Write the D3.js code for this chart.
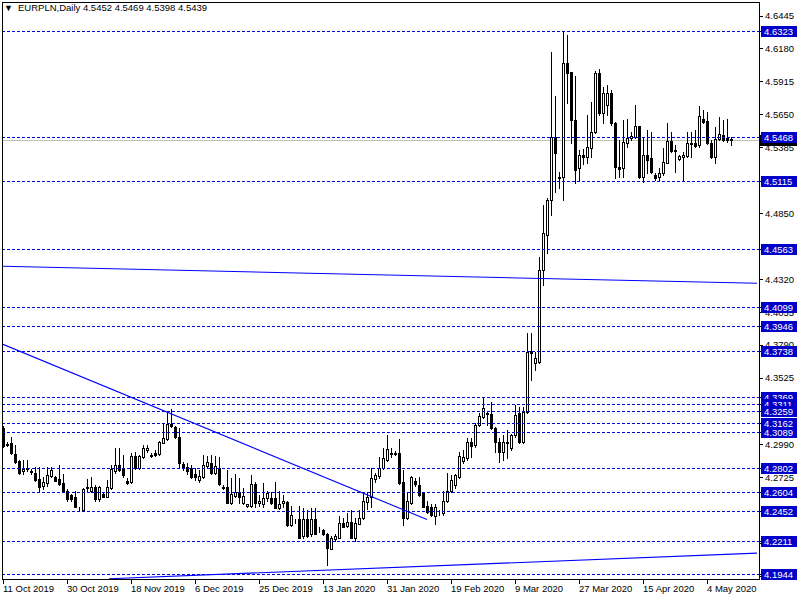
<!DOCTYPE html>
<html><head><meta charset="utf-8">
<script src="https://cdn.jsdelivr.net/npm/d3@7"></script>
<style>body{margin:0;background:#fff;}svg{display:block;}text{font-family:"Liberation Sans",Arial,sans-serif;}</style>
</head><body><svg id="c" width="800" height="600"></svg>
<script>
// EURPLN daily candles, bar index 0 = 11 Oct 2019
const opens=[4.3117,4.2990,4.2996,4.2908,4.2851,4.2771,4.2795,4.2771,4.2762,4.2706,4.2650,4.2674,4.2730,4.2722,4.2706,4.2674,4.2617,4.2577,4.2561,4.2472,4.2456,4.2634,4.2617,4.2642,4.2545,4.2585,4.2561,4.2634,4.2771,4.2819,4.2795,4.2690,4.2682,4.2892,4.2795,4.2884,4.2940,4.2900,4.2916,4.2908,4.2996,4.3036,4.3157,4.3125,4.3052,4.2827,4.2803,4.2795,4.2754,4.2698,4.2722,4.2815,4.2835,4.2758,4.2795,4.2642,4.2642,4.2520,4.2569,4.2601,4.2520,4.2492,4.2496,4.2666,4.2520,4.2512,4.2553,4.2553,4.2553,4.2472,4.2520,4.2528,4.2335,4.2375,4.2391,4.2254,4.2391,4.2270,4.2391,4.2302,4.2302,4.2270,4.2149,4.2230,4.2238,4.2359,4.2327,4.2367,4.2238,4.2351,4.2399,4.2528,4.2561,4.2706,4.2730,4.2795,4.2859,4.2916,4.2916,4.2916,4.2682,4.2399,4.2520,4.2690,4.2658,4.2593,4.2496,4.2480,4.2415,4.2440,4.2432,4.2536,4.2617,4.2658,4.2722,4.2851,4.2875,4.3004,4.2980,4.3141,4.3206,4.3238,4.3230,4.3117,4.3004,4.2924,4.3004,4.2956,4.3061,4.3238,4.3004,4.3246,4.3738,4.3642,4.3650,4.4392,4.4675,4.4957,4.5465,4.5143,4.5143,4.6063,4.5990,4.5603,4.5215,4.5320,4.5304,4.5377,4.5506,4.5982,4.5659,4.5724,4.5820,4.5578,4.5223,4.5215,4.5417,4.5457,4.5465,4.5554,4.5143,4.5320,4.5296,4.5159,4.5143,4.5175,4.5256,4.5433,4.5361,4.5288,4.5304,4.5312,4.5409,4.5417,4.5401,4.5611,4.5595,4.5417,4.5304,4.5449,4.5482,4.5457,4.5452];
const highs=[4.3140,4.3004,4.3052,4.2980,4.2859,4.2859,4.2859,4.2787,4.2803,4.2803,4.2722,4.2803,4.2803,4.2730,4.2819,4.2754,4.2626,4.2585,4.2617,4.2480,4.2634,4.2706,4.2722,4.2658,4.2650,4.2593,4.2698,4.2819,4.2956,4.2956,4.2900,4.2714,4.2916,4.2924,4.2900,4.2980,4.2980,4.2916,4.2940,4.3012,4.3157,4.3238,4.3270,4.3133,4.3117,4.2843,4.2835,4.2819,4.2795,4.2779,4.2900,4.2892,4.2900,4.2892,4.2884,4.2658,4.2779,4.2714,4.2754,4.2714,4.2634,4.2512,4.2738,4.2682,4.2577,4.2674,4.2617,4.2601,4.2682,4.2617,4.2577,4.2536,4.2496,4.2391,4.2496,4.2472,4.2456,4.2472,4.2472,4.2319,4.2310,4.2278,4.2254,4.2270,4.2415,4.2399,4.2432,4.2456,4.2399,4.2456,4.2593,4.2593,4.2795,4.2762,4.2884,4.2956,4.3061,4.2956,4.2932,4.3036,4.2779,4.2593,4.2730,4.2714,4.2722,4.2601,4.2536,4.2512,4.2512,4.2456,4.2617,4.2762,4.2738,4.2746,4.2924,4.2940,4.3044,4.3044,4.3165,4.3238,4.3369,4.3246,4.3327,4.3125,4.3044,4.3061,4.3101,4.3069,4.3303,4.3287,4.3287,4.3884,4.3884,4.3730,4.4497,4.4917,4.4973,4.6151,4.5796,4.5183,4.6323,4.6289,4.5990,4.5958,4.5361,4.5369,4.5643,4.5748,4.5998,4.6014,4.5869,4.5885,4.5845,4.5587,4.5441,4.5603,4.5611,4.5506,4.5724,4.5554,4.5465,4.5522,4.5506,4.5175,4.5215,4.5377,4.5578,4.5506,4.5401,4.5320,4.5344,4.5506,4.5506,4.5522,4.5716,4.5683,4.5667,4.5441,4.5546,4.5627,4.5603,4.5611,4.5469];
const lows=[4.2964,4.2972,4.2908,4.2835,4.2754,4.2754,4.2771,4.2754,4.2690,4.2617,4.2626,4.2650,4.2722,4.2690,4.2658,4.2601,4.2536,4.2536,4.2480,4.2456,4.2448,4.2609,4.2601,4.2536,4.2536,4.2561,4.2561,4.2626,4.2762,4.2771,4.2722,4.2666,4.2674,4.2787,4.2787,4.2875,4.2924,4.2884,4.2892,4.2900,4.2996,4.3028,4.3125,4.3044,4.2795,4.2779,4.2754,4.2714,4.2698,4.2682,4.2714,4.2803,4.2754,4.2754,4.2658,4.2626,4.2520,4.2512,4.2561,4.2520,4.2512,4.2488,4.2488,4.2488,4.2496,4.2480,4.2536,4.2512,4.2472,4.2464,4.2480,4.2327,4.2327,4.2359,4.2238,4.2238,4.2246,4.2254,4.2270,4.2286,4.2262,4.2020,4.2149,4.2214,4.2238,4.2319,4.2319,4.2238,4.2214,4.2343,4.2391,4.2464,4.2480,4.2682,4.2714,4.2787,4.2851,4.2884,4.2900,4.2666,4.2335,4.2391,4.2512,4.2650,4.2569,4.2480,4.2432,4.2415,4.2351,4.2423,4.2423,4.2528,4.2601,4.2634,4.2714,4.2835,4.2859,4.2884,4.2964,4.3133,4.3198,4.3141,4.3109,4.2924,4.2843,4.2859,4.2875,4.2940,4.3052,4.2996,4.2996,4.3238,4.3504,4.3585,4.3642,4.4271,4.4529,4.4836,4.5022,4.5054,4.4957,4.5740,4.5417,4.5094,4.5118,4.5248,4.5256,4.5304,4.5498,4.5643,4.5578,4.5643,4.5562,4.5135,4.5143,4.5143,4.5385,4.5441,4.5457,4.5135,4.5102,4.5175,4.5175,4.5118,4.5118,4.5159,4.5256,4.5344,4.5183,4.5280,4.5118,4.5304,4.5304,4.5385,4.5385,4.5578,4.5409,4.5296,4.5256,4.5441,4.5433,4.5425,4.5398];
const closes=[4.2972,4.2986,4.2916,4.2843,4.2762,4.2787,4.2791,4.2767,4.2698,4.2642,4.2682,4.2738,4.2779,4.2690,4.2666,4.2617,4.2545,4.2545,4.2488,4.2476,4.2626,4.2642,4.2642,4.2545,4.2642,4.2561,4.2642,4.2787,4.2819,4.2779,4.2738,4.2674,4.2892,4.2795,4.2892,4.2956,4.2956,4.2896,4.2900,4.3004,4.3044,4.3157,4.3133,4.3052,4.2835,4.2795,4.2771,4.2722,4.2722,4.2730,4.2819,4.2843,4.2762,4.2811,4.2666,4.2638,4.2520,4.2585,4.2601,4.2561,4.2569,4.2508,4.2666,4.2520,4.2536,4.2553,4.2593,4.2520,4.2472,4.2512,4.2536,4.2335,4.2423,4.2371,4.2238,4.2391,4.2254,4.2391,4.2270,4.2298,4.2270,4.2157,4.2238,4.2254,4.2359,4.2319,4.2367,4.2238,4.2359,4.2399,4.2536,4.2561,4.2714,4.2738,4.2795,4.2875,4.2948,4.2912,4.2908,4.2674,4.2399,4.2536,4.2722,4.2666,4.2577,4.2488,4.2440,4.2423,4.2488,4.2444,4.2536,4.2617,4.2698,4.2738,4.2892,4.2884,4.3004,4.2972,4.3141,4.3214,4.3278,4.3234,4.3117,4.3004,4.2924,4.3004,4.2996,4.3061,4.3222,4.3004,4.3246,4.3730,4.3722,4.3682,4.4392,4.4691,4.4957,4.5465,4.5336,4.5135,4.6063,4.5982,4.5603,4.5199,4.5320,4.5304,4.5385,4.5506,4.5982,4.5659,4.5820,4.5820,4.5578,4.5223,4.5207,4.5425,4.5457,4.5473,4.5554,4.5143,4.5320,4.5280,4.5183,4.5135,4.5175,4.5264,4.5433,4.5353,4.5357,4.5312,4.5320,4.5417,4.5417,4.5393,4.5635,4.5587,4.5417,4.5304,4.5449,4.5490,4.5441,4.5441,4.5439];

const dateLabels=["11 Oct 2019","30 Oct 2019","18 Nov 2019","6 Dec 2019","25 Dec 2019","13 Jan 2020","31 Jan 2020","19 Feb 2020","9 Mar 2020","27 Mar 2020","15 Apr 2020","4 May 2020"];
const dateBars=[0,16,32,48,64,80,96,112,128,144,160,176];
const priceTicks=[4.6445,4.6180,4.5915,4.5650,4.5385,4.4850,4.4320,4.4055,4.3790,4.3525,4.2990,4.2725,4.2195,4.1930];
const levels=[4.6323,4.5468,4.5115,4.4563,4.4099,4.3946,4.3738,4.3369,4.3311,4.3259,4.3162,4.3089,4.2802,4.2604,4.2452,4.2211,4.1944];
const bidPrice=4.5439;
const symbolText="EURPLN,Daily  4.5452 4.5469 4.5398 4.5439";
// trend lines: [bar, price] anchors
const trendA=[[0,4.4424],[188.5,4.4287]];
const trendB=[[0,4.3795],[106,4.2383]];
const trendC=[[26.5,4.1906],[188.5,4.2112]];

const svg=d3.select("#c");
const W=800,H=600, plotL=2, plotR=759, plotT=2, plotB=579;
const x=d3.scaleLinear().domain([0,1]).range([3,7]);
const y=d3.scaleLinear().domain([4.6323,4.1944]).range([30.7,574]);
const py=v=>Math.round(y(v))+0.5;

svg.append("rect").attr("width",W).attr("height",H).attr("fill","#fff");
svg.append("defs").append("clipPath").attr("id","clip").append("rect")
  .attr("x",plotL+1).attr("y",plotT+1).attr("width",plotR-plotL-1).attr("height",plotB-plotT-1);
const g=svg.append("g").attr("clip-path","url(#clip)");

// bid line
g.append("line").attr("x1",plotL).attr("x2",plotR).attr("y1",py(bidPrice)).attr("y2",py(bidPrice))
  .attr("stroke","#c0c0c0").attr("stroke-width",1);

// candles
const idx=d3.range(opens.length);
const cg=g.append("g");
cg.selectAll("line.w").data(idx).join("line").attr("class","w")
  .attr("x1",i=>x(i)+0.5).attr("x2",i=>x(i)+0.5)
  .attr("y1",i=>Math.round(y(highs[i]))).attr("y2",i=>Math.round(y(lows[i]))+1)
  .attr("stroke","#000").attr("stroke-width",1);
cg.selectAll("rect.b").data(idx).join("rect").attr("class","b")
  .attr("x",i=>x(i)-0.5).attr("width",2)
  .attr("y",i=>py(Math.max(opens[i],closes[i])))
  .attr("height",i=>Math.max(0,Math.round(y(Math.min(opens[i],closes[i])))-Math.round(y(Math.max(opens[i],closes[i])))))
  .attr("fill",i=>closes[i]>=opens[i]?"#fff":"#000")
  .attr("stroke","#000").attr("stroke-width",1);

// horizontal level lines
g.selectAll("line.lv").data(levels).join("line").attr("class","lv")
  .attr("x1",plotL).attr("x2",plotR).attr("y1",py).attr("y2",py)
  .attr("stroke","#0000d8").attr("stroke-width",1).attr("stroke-dasharray","3,2");

// trend lines
[trendA,trendB,trendC].forEach(t=>{
  g.append("line").attr("x1",x(t[0][0])).attr("y1",y(t[0][1])).attr("x2",x(t[1][0])).attr("y2",y(t[1][1]))
   .attr("stroke","#0000ff").attr("stroke-width",1.1);
});

// frame & axes
svg.append("line").attr("x1",plotL+0.5).attr("x2",plotL+0.5).attr("y1",plotT).attr("y2",plotB+0.5).attr("stroke","#000");
svg.append("line").attr("x1",plotR+0.5).attr("x2",plotR+0.5).attr("y1",plotT).attr("y2",plotB+0.5).attr("stroke","#000");
svg.append("line").attr("x1",plotL).attr("x2",plotR+1).attr("y1",plotB+0.5).attr("y2",plotB+0.5).attr("stroke","#000");
svg.append("line").attr("x1",plotL).attr("x2",plotR+1).attr("y1",plotT+0.5).attr("y2",plotT+0.5).attr("stroke","#000");

// right price ticks
const rt=svg.append("g");
rt.selectAll("line").data(priceTicks).join("line")
  .attr("x1",plotR).attr("x2",plotR+4).attr("y1",py).attr("y2",py).attr("stroke","#000");
rt.selectAll("text").data(priceTicks).join("text")
  .attr("x",765).attr("y",v=>y(v)+3.5).attr("font-size",9.5).attr("fill","#000").text(v=>v.toFixed(4));

// bid label (mostly hidden behind the level label)
svg.append("rect").attr("x",760).attr("width",37).attr("y",Math.round(y(bidPrice))-5).attr("height",11).attr("fill","#000");

// level labels
const ll=svg.append("g");
levels.forEach(v=>{
  const yy=Math.round(y(v));
  ll.append("line").attr("x1",plotR).attr("x2",plotR+3).attr("y1",yy+0.5).attr("y2",yy+0.5).attr("stroke","#000");
  ll.append("rect").attr("x",761).attr("width",36).attr("y",yy-5).attr("height",11).attr("fill","#0000c8");
  ll.append("text").attr("x",764).attr("y",yy+4).attr("font-size",9.5).attr("fill","#fff").text(v.toFixed(4));
});

// date axis
const bt=svg.append("g");
bt.selectAll("line").data(dateBars).join("line")
  .attr("x1",i=>x(i)+0.5).attr("x2",i=>x(i)+0.5).attr("y1",plotB).attr("y2",plotB+5).attr("stroke","#000");
bt.selectAll("text").data(dateBars).join("text")
  .attr("x",i=>x(i)).attr("y",592).attr("font-size",9.5).attr("fill","#000")
  .text((d,k)=>dateLabels[k]);

// header
svg.append("text").attr("x",4).attr("y",11).attr("font-size",9).attr("fill","#000").text("▼");
svg.append("text").attr("x",18).attr("y",11).attr("font-size",9.5).attr("fill","#000").text(symbolText);
</script></body></html>
